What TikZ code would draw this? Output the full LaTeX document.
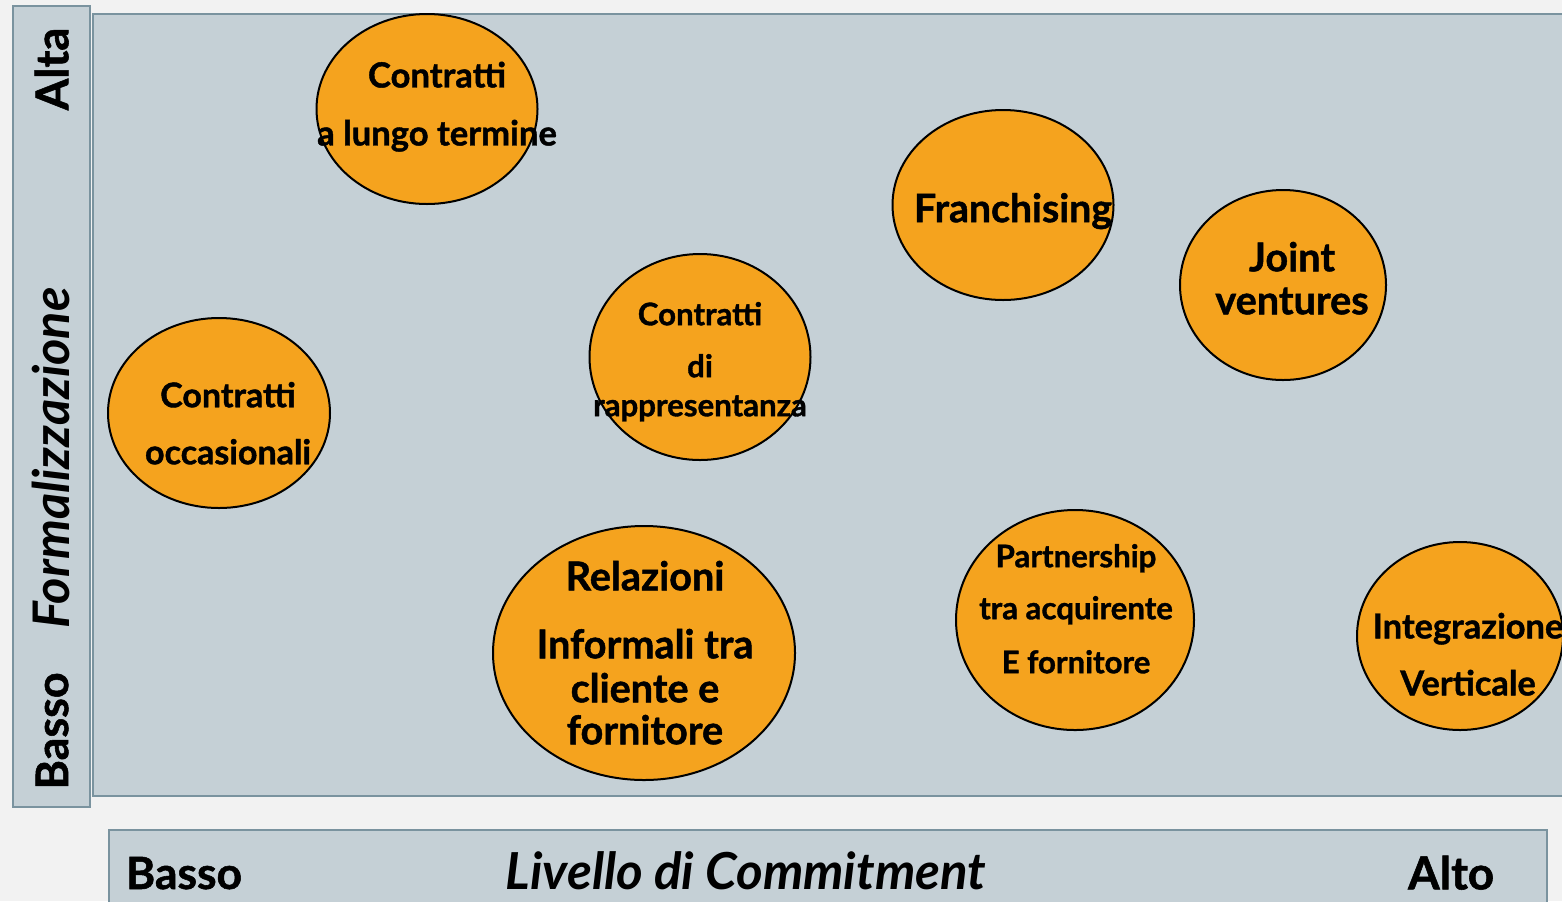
\documentclass[tikz,border=0pt]{standalone}
\usepackage{fontspec}
\setmainfont{Lato}[BoldFeatures={FakeBold=1.2}]
\usetikzlibrary{shapes.geometric}
\definecolor{bgc}{RGB}{242,242,242}
\definecolor{panelfill}{RGB}{197,208,214}
\definecolor{panelline}{RGB}{122,147,159}
\definecolor{blobor}{RGB}{245,163,30}
\tikzset{
  panel/.style={draw=panelline, fill=panelfill, line width=0.8pt},
  blob/.style={ellipse, draw=black, fill=blobor, line width=1pt, inner sep=0pt},
  lbl/.style={font=\fontsize{#1}{#1}\selectfont\bfseries, text height={0.72*#1pt}, text depth=0pt, inner sep=0pt, anchor=center},
  lbl/.default=16.5,
  ilbl/.style={font=\fontsize{#1}{#1}\selectfont\bfseries\itshape, text height={0.72*#1pt}, text depth=0pt, inner sep=0pt, anchor=center}
}
\begin{document}
\begin{tikzpicture}[x=0.5pt,y=-0.5pt]
\useasboundingbox (0,0) rectangle (1562,901);
\clip (0,0) rectangle (1562,901);
\fill[bgc] (0,0) rectangle (1562,901);
% panels
\draw[panel] (13,6) rectangle (90,807);
\draw[panel] (93,14) rectangle (1600,796);
\draw[panel] (109,830) rectangle (1547,940);
% axis labels
\node[lbl=22.6, rotate=90] (alta) at (52,69) {Alta};
\node[ilbl=25.2, rotate=90] (formal) at (51,458) {Formalizzazione};
\node[lbl=22.4, rotate=90] (bassoy) at (52,731) {Basso};
\node[lbl=22.2] (bassox) at (184,873) {Basso};
\node[ilbl=25.5] (livello) at (746,871) {Livello di Commitment};
\node[lbl=22.8] (altox) at (1451,873) {Alto};
% ellipses
\node[blob, minimum width=110.5pt, minimum height=95pt] (e1) at (427,109) {};
\node[blob, minimum width=110.5pt, minimum height=95pt] (e2) at (1003,205) {};
\node[blob, minimum width=103pt, minimum height=95pt] (e3) at (1283,285) {};
\node[blob, minimum width=110.5pt, minimum height=103pt] (e4) at (700,357) {};
\node[blob, minimum width=111pt, minimum height=95pt] (e5) at (219,413) {};
\node[blob, minimum width=151pt, minimum height=127pt] (e6) at (644,653) {};
\node[blob, minimum width=119pt, minimum height=110pt] (e7) at (1075,620) {};
\node[blob, minimum width=103pt, minimum height=94pt] (e8) at (1460,636) {};
% texts
\node[lbl=17.3] (t1a) at (437,75) {Contratti};
\node[lbl=17.3] (t1b) at (437,133) {a lungo termine};
\node[lbl=19.6] (t2a) at (1013,208) {Franchising};
\node[lbl=19.8] (t3a) at (1292,257) {Joint};
\node[lbl=19.8] (t3b) at (1292,300) {ventures};
\node[lbl=15.6] (t4a) at (700,314) {Contratti};
\node[lbl=15.6] (t4b) at (700,366) {di};
\node[lbl=15.6] (t4c) at (700,405) {rappresentanza};
\node[lbl=17] (t5a) at (228,395) {Contratti};
\node[lbl=17] (t5b) at (228,452) {occasionali};
\node[lbl=19.8] (t6a) at (645,576) {Relazioni};
\node[lbl=19.8] (t6b) at (645,644) {Informali tra};
\node[lbl=19.8] (t6c) at (645,688) {cliente e};
\node[lbl=19.8] (t6d) at (645,730) {fornitore};
\node[lbl=15.6] (t7a) at (1076,556) {Partnership};
\node[lbl=15.6] (t7b) at (1076,608) {tra acquirente};
\node[lbl=15.6] (t7c) at (1076,662) {E fornitore};
\node[lbl=17.2] (t8a) at (1468,626) {Integrazione};
\node[lbl=17.2] (t8b) at (1468,683) {Verticale};
\end{tikzpicture}
\end{document}
